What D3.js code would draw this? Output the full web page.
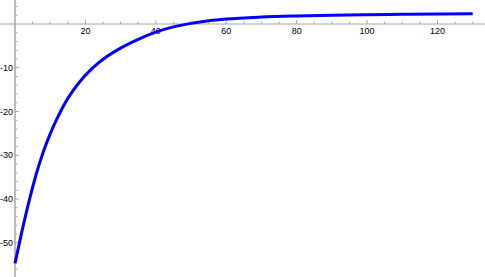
<!DOCTYPE html>
<html lang="en">
<head>
<meta charset="UTF-8">
<title>Curve</title>
<script src="https://d3js.org/d3.v7.min.js"></script>
<style>
    body { margin: 0; background: white; }
    .lbl { font-family: 'Liberation Sans', Arial, sans-serif; font-size: 9px; fill: black; }
</style>
</head>
<body>
<div id="chart"></div>
<script>
// values
const xs = [0, 2, 4, 6, 8, 10, 12, 15, 18, 22, 26, 30, 35, 40, 45, 50, 55, 60, 70, 80, 90, 100, 110, 120, 130];
const ys = [-54.7, -47.3, -40.5, -34.4, -29.3, -25.1, -21.5, -17.0, -13.6, -10.1, -7.5, -5.5, -3.5, -1.85, -0.65, 0.15, 0.75, 1.15, 1.6, 1.85, 2.02, 2.13, 2.22, 2.28, 2.33];
const xMajor = [20, 40, 60, 80, 100, 120];
const xMinor = [5, 10, 15, 25, 30, 35, 45, 50, 55, 65, 70, 75, 85, 90, 95, 105, 110, 115, 125, 130];
const yMajor = [-10, -20, -30, -40, -50];
const yMinor = [4, 2, -2, -4, -6, -8, -12, -14, -16, -18, -22, -24, -26, -28, -32, -34, -36, -38, -42, -44, -46, -48, -52, -54, -56];

const width = 485, height = 277;

const x = d3.scaleLinear().domain([-4.26, 133.5]).range([0, width]);
const y = d3.scaleLinear().domain([-57.83, 5.49]).range([height, 0]);

const svg = d3.select("#chart").append("svg")
    .attr("width", width)
    .attr("height", height);

const axisColor = "#a6a6a6";

// x axis line + ticks (ticks point up)
const gx = svg.append("g").attr("transform", `translate(0,${y(0)})`);
gx.append("line").attr("x1", 0).attr("x2", width).attr("stroke", axisColor);
gx.selectAll(".maj").data(xMajor).join("line")
    .attr("x1", d => x(d)).attr("x2", d => x(d))
    .attr("y1", 0).attr("y2", -4).attr("stroke", axisColor);
gx.selectAll(".min").data(xMinor).join("line")
    .attr("x1", d => x(d)).attr("x2", d => x(d))
    .attr("y1", 0).attr("y2", -2.5).attr("stroke", axisColor);
gx.selectAll("text").data(xMajor).join("text")
    .attr("class", "lbl")
    .attr("x", d => x(d)).attr("y", 10)
    .attr("text-anchor", "middle")
    .text(d => d);

// y axis line + ticks (ticks point right)
const gy = svg.append("g").attr("transform", `translate(${x(0)},0)`);
gy.append("line").attr("y1", 0).attr("y2", height).attr("stroke", axisColor).attr("stroke-width", 1.5);
gy.selectAll(".maj").data(yMajor).join("line")
    .attr("y1", d => y(d)).attr("y2", d => y(d))
    .attr("x1", 0).attr("x2", 4).attr("stroke", axisColor);
gy.selectAll(".min").data(yMinor).join("line")
    .attr("y1", d => y(d)).attr("y2", d => y(d))
    .attr("x1", 0).attr("x2", 2.5).attr("stroke", axisColor);
gy.selectAll("text").data(yMajor).join("text")
    .attr("class", "lbl")
    .attr("x", -2).attr("y", d => y(d) + 3)
    .attr("text-anchor", "end")
    .text(d => "-" + Math.abs(d));

// the curve
const line = d3.line()
    .x((d, i) => x(xs[i]))
    .y(d => y(d))
    .curve(d3.curveMonotoneX);

svg.append("path")
    .datum(ys)
    .attr("fill", "none")
    .attr("stroke", "#0000ff")
    .attr("stroke-width", 3)
    .attr("d", line);
</script>
</body>
</html>
